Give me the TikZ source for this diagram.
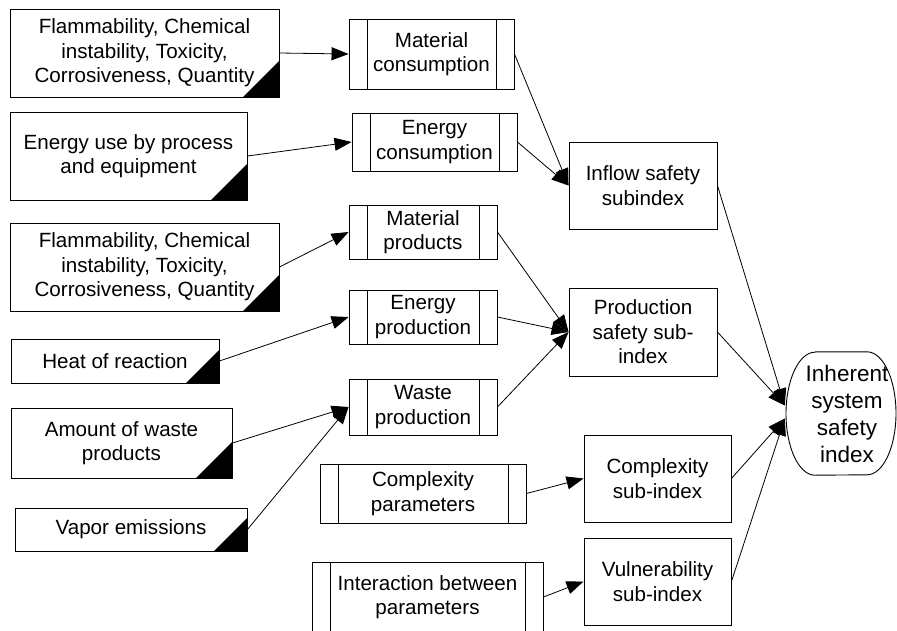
\documentclass[tikz,border=0pt]{standalone}
\usepackage{fontspec}
\setmainfont{Liberation Sans}
\usetikzlibrary{arrows.meta}
\begin{document}
\begin{tikzpicture}[x=1pt,y=-1pt,
  every node/.style={font=\fontsize{20.6}{24.5}\selectfont, align=center, inner sep=0pt},
  srcbox/.style={draw, line width=0.9pt,
    path picture={\fill (path picture bounding box.south east) -- ++(-#1,0pt) -- ++(#1,#1) -- cycle;}},
  srcbox/.default=36pt,
  procbox/.style={draw, line width=0.9pt,
    path picture={\draw[line width=0.9pt]
      ([xshift=18pt]path picture bounding box.north west) -- ([xshift=18pt]path picture bounding box.south west)
      ([xshift=-18pt]path picture bounding box.north east) -- ([xshift=-18pt]path picture bounding box.south east);}},
  subbox/.style={draw, line width=0.9pt},
  link/.style={line width=0.8pt, -{Triangle[length=17pt,width=13pt]}}]

\clip (0,0) rectangle (897,630);

% input data boxes
\node[srcbox, minimum width=269pt, minimum height=88pt] (fl1) at (144.5,53)
  {Flammability, Chemical\\instability, Toxicity,\\Corrosiveness, Quantity};
\node[srcbox, minimum width=237pt, minimum height=88pt] (en) at (128.5,156)
  {Energy use by process\\and equipment};
\node[srcbox, minimum width=269pt, minimum height=88pt] (fl2) at (144.5,267)
  {Flammability, Chemical\\instability, Toxicity,\\Corrosiveness, Quantity};
\node[srcbox=33pt, minimum width=208pt, minimum height=44pt] (heat) at (115,361)
  {Heat of reaction};
\node[srcbox, minimum width=221pt, minimum height=70pt] (waste) at (121.5,443)
  {Amount of waste\\products};
\node[srcbox=33pt, minimum width=232pt, minimum height=43pt] (vapor) at (131,529.5)
  {Vapor emissions};

% process boxes
\node[procbox, minimum width=165pt, minimum height=70pt] (mc) at (431.5,54) {Material\\consumption};
\node[procbox, minimum width=165pt, minimum height=58pt] (ec) at (434.5,142) {Energy\\consumption};
\node[procbox, minimum width=148pt, minimum height=54pt] (mp) at (423,232) {Material\\products};
\node[procbox, minimum width=148pt, minimum height=54pt] (ep) at (423,317) {Energy\\production};
\node[procbox, minimum width=148pt, minimum height=56pt] (wp) at (423,407) {Waste\\production};
\node[procbox, minimum width=206pt, minimum height=59pt] (cp) at (423,493.5) {Complexity\\parameters};
\node[procbox, minimum width=231pt, minimum height=70pt] (ip) at (427.5,597) {Interaction between\\parameters};

% sub-index boxes
\node[subbox, minimum width=148pt, minimum height=87pt] (inflow) at (643,185.5) {Inflow safety\\subindex};
\node[subbox, minimum width=148pt, minimum height=88pt] (prod) at (643,332) {Production\\safety sub-\\index};
\node[subbox, minimum width=147pt, minimum height=87pt] (cplx) at (657.5,478.5) {Complexity\\sub-index};
\node[subbox, minimum width=147pt, minimum height=87pt] (vuln) at (657.5,581.5) {Vulnerability\\sub-index};

% overall index
\node[minimum width=112pt, minimum height=123pt] (fin) at (841,413.5) {};
\node[font=\fontsize{22.5}{27}\selectfont] (fintext) at (847,413.5) {Inherent\\system\\safety\\index};
\draw[line width=0.9pt] ([xshift=-26pt]fin.north) -- ([xshift=26pt]fin.north)
  arc[start angle=90, end angle=-90, x radius=29pt, y radius=61.5pt]
  -- ([xshift=-26pt]fin.south)
  arc[start angle=270, end angle=90, x radius=29pt, y radius=61.5pt];

% connectors
\draw[link] (fl1.east) -- (mc.west);
\draw[link] (en.east) -- (ec.west);
\draw[link] (fl2.east) -- (mp.west);
\draw[link] (heat.east) -- (ep.west);
\draw[link] (waste.east) -- (wp.west);
\draw[link] (vapor.east) -- (wp.west);

\draw[link] (mc.east) -- (inflow.west);
\draw[link] (ec.east) -- (inflow.west);
\draw[link] (mp.east) -- (prod.west);
\draw[link] (ep.east) -- (prod.west);
\draw[link] (wp.east) -- (prod.west);
\draw[link] (cp.east) -- (cplx.west);
\draw[link] (ip.east) -- (vuln.west);

\draw[link] (inflow.east) -- ([yshift=8pt]fin.west);
\draw[link] (prod.east) -- ([yshift=8pt]fin.west);
\draw[link] (cplx.east) -- ([yshift=-5pt]fin.west);
\draw[link] (vuln.east) -- ([yshift=-5pt]fin.west);
\end{tikzpicture}
\end{document}
